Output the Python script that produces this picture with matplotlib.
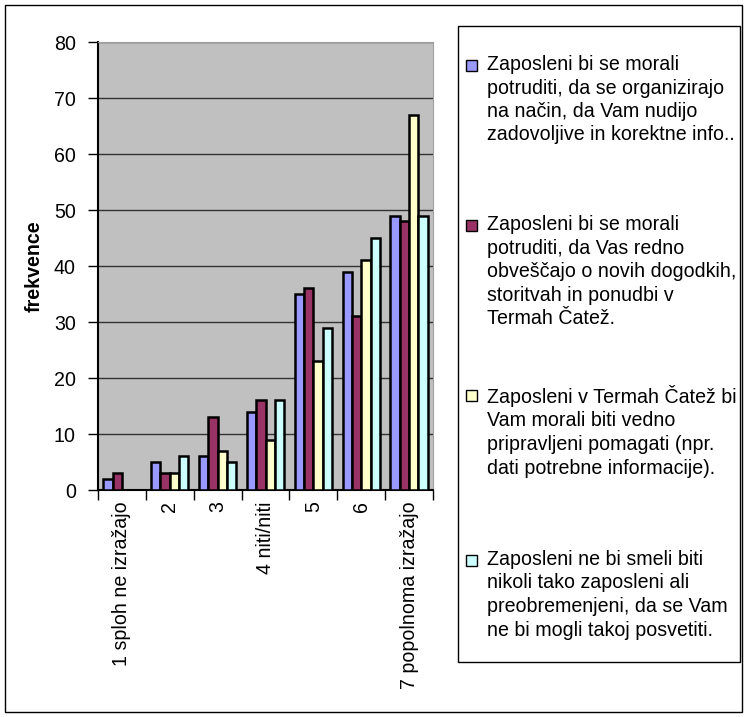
import matplotlib.pyplot as plt
import matplotlib.patches as mpatches
import numpy as np

plt.rcParams['font.family'] = ['Liberation Sans', 'DejaVu Sans']

categories = ["1 sploh ne izražajo", "2", "3", "4 niti/niti", "5", "6", "7 popolnoma izražajo"]
s1 = [2, 5, 6, 14, 35, 39, 49]
s2 = [3, 3, 13, 16, 36, 31, 48]
s3 = [0, 3, 7, 9, 23, 41, 67]
s4 = [0, 6, 5, 16, 29, 45, 49]
labels = [
    "Zaposleni bi se morali\npotruditi, da se organizirajo\nna način, da Vam nudijo\nzadovoljive in korektne info..",
    "Zaposleni bi se morali\npotruditi, da Vas redno\nobveščajo o novih dogodkih,\nstoritvah in ponudbi v\nTermah Čatež.",
    "Zaposleni v Termah Čatež bi\nVam morali biti vedno\npripravljeni pomagati (npr.\ndati potrebne informacije).",
    "Zaposleni ne bi smeli biti\nnikoli tako zaposleni ali\npreobremenjeni, da se Vam\nne bi mogli takoj posvetiti.",
]
colors = ["#9999FF", "#993366", "#FFFFCC", "#CCFFFF"]

fs = 14.1
fig = plt.figure(figsize=(7.48, 7.17), dpi=100)
W, H = 748, 717

# outer border
fig.patches.append(mpatches.Rectangle((5 / W, 5 / H), 737 / W, 707 / H, transform=fig.transFigure,
                                      fill=False, edgecolor="black", linewidth=1))

ax = fig.add_axes([98 / W, 1 - 490 / H, 335 / W, 448 / H])
ax.set_facecolor("#C0C0C0")

x = np.arange(len(categories))
bw = 0.195
series = [s1, s2, s3, s4]
for i, (vals, c) in enumerate(zip(series, colors)):
    ax.bar(x + (i - 1.5) * bw, vals, bw, color=c, edgecolor="black", linewidth=1.8, zorder=3)

ax.set_xlim(-0.5, len(categories) - 0.5)
ax.set_ylim(0, 80)
ax.set_yticks(range(0, 81, 10))
ax.yaxis.grid(True, color="#333333", linewidth=1)
ax.set_axisbelow(True)
ax.tick_params(axis="y", labelsize=fs, length=7, width=1, direction="out", pad=9)

ax.set_xticks(x)
ax.set_xticklabels(categories, rotation=90, fontsize=fs, va="top")
ax.tick_params(axis="x", length=0, pad=8)
ax.set_xticks(np.arange(-0.5, len(categories), 1), minor=True)
ax.tick_params(axis="x", which="minor", length=7, width=1, direction="out")

for side in ["top", "right"]:
    ax.spines[side].set_color("#A0A0A0")
    ax.spines[side].set_linewidth(0.8)
ax.spines["left"].set_linewidth(1.5)
ax.spines["bottom"].set_linewidth(1.5)

ax.set_ylabel("frekvence", fontsize=fs, fontweight="bold", labelpad=7)

# legend box
fig.patches.append(mpatches.Rectangle((458 / W, 1 - 662 / H), 282 / W, 636 / H, transform=fig.transFigure,
                                      fill=False, edgecolor="black", linewidth=1))
entry_y = [66, 226, 396, 561]
for lab, c, y in zip(labels, colors, entry_y):
    fig.patches.append(mpatches.Rectangle((466 / W, 1 - (y + 5) / H), 11 / W, 11 / H,
                                          transform=fig.transFigure, facecolor=c,
                                          edgecolor="black", linewidth=1))
    fig.text(487 / W, 1 - (y - 11) / H, lab, fontsize=fs, va="top", ha="left", linespacing=1.3)

fig.savefig("out.png", dpi=100)
